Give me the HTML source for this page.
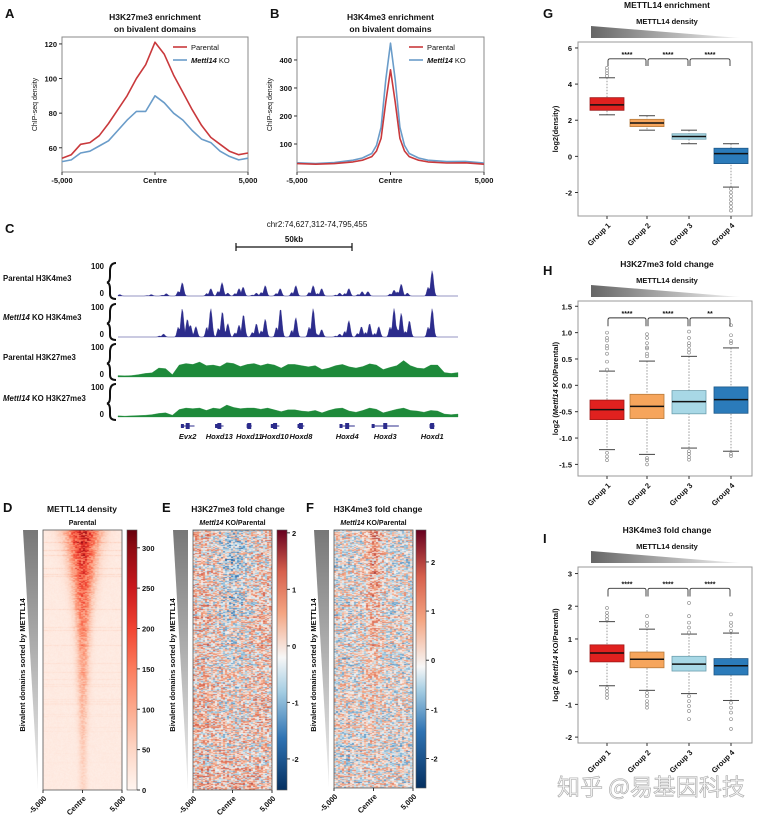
<!DOCTYPE html>
<html><head><meta charset="utf-8">
<style>
html,body{margin:0;padding:0;background:#fff;}
#wrap{position:relative;width:761px;height:817px;overflow:hidden;font-family:"Liberation Sans",Arial,sans-serif;}
svg{position:absolute;left:0;top:0;}
canvas{position:absolute;}
text{font-family:"Liberation Sans","Noto Sans CJK SC",sans-serif;fill:#111;}
</style></head>
<body>
<div id="wrap">
<canvas id="hmD" width="79" height="260" style="left:43px;top:530px;width:79px;height:260px"></canvas>
<canvas id="hmE" width="79" height="260" style="left:193px;top:530px;width:79px;height:260px"></canvas>
<canvas id="hmF" width="79" height="258" style="left:334px;top:530px;width:79px;height:258px"></canvas>
<svg id="svg" width="761" height="817" xmlns="http://www.w3.org/2000/svg">
<defs>
<linearGradient id="triG" x1="0" x2="1" y1="0" y2="0"><stop offset="0" stop-color="#666"/><stop offset="1" stop-color="#f2f2f2"/></linearGradient>
<linearGradient id="triV" x1="0" x2="0" y1="0" y2="1"><stop offset="0" stop-color="#777"/><stop offset="1" stop-color="#f0f0f0"/></linearGradient>
<linearGradient id="cbReds" x1="0" x2="0" y1="1" y2="0"><stop offset="0" stop-color="#fff5f0"/><stop offset="0.16" stop-color="#fdd5c4"/><stop offset="0.31" stop-color="#fcaa8e"/><stop offset="0.47" stop-color="#fb7b5c"/><stop offset="0.62" stop-color="#f14432"/><stop offset="0.78" stop-color="#c9181d"/><stop offset="0.94" stop-color="#8a0a12"/><stop offset="1" stop-color="#67000d"/></linearGradient>
<linearGradient id="cbE" x1="0" x2="0" y1="1" y2="0"><stop offset="0" stop-color="#053061"/><stop offset="0.2" stop-color="#2f73b3"/><stop offset="0.38" stop-color="#a6cee3"/><stop offset="0.51" stop-color="#f7f7f7"/><stop offset="0.68" stop-color="#f4a582"/><stop offset="0.84" stop-color="#d6604d"/><stop offset="1" stop-color="#67001f"/></linearGradient>
<linearGradient id="cbF" x1="0" x2="0" y1="1" y2="0"><stop offset="0" stop-color="#053061"/><stop offset="0.22" stop-color="#2f73b3"/><stop offset="0.38" stop-color="#a6cee3"/><stop offset="0.47" stop-color="#f7f7f7"/><stop offset="0.65" stop-color="#f4a582"/><stop offset="0.82" stop-color="#d6604d"/><stop offset="1" stop-color="#67001f"/></linearGradient>
</defs>
<g id="layer"></g>
</svg>
</div>
<script>
// ---------- Panel A / B data ----------
const posA = [-5000,-4500,-4000,-3500,-3000,-2500,-2000,-1500,-1000,-500,0,500,1000,1500,2000,2500,3000,3500,4000,4500,5000];
const parentalA = [54,56,62,63,67,74,82,90,100,108,121,114,102,92,82,73,66,62,58,56,57];
const koA = [52,53,57,58,61,64,70,76,81,81,90,86,80,76,70,65,63,58,55,53,54];
const ticksA = [60,80,100,120];
const posB = [-5000,-4000,-3000,-2000,-1500,-1000,-750,-500,-250,0,250,500,750,1000,1500,2000,3000,4000,5000];
const parentalB = [30,28,30,36,42,55,75,120,250,365,250,120,75,55,42,36,32,33,28];
const koB = [33,30,34,42,50,66,95,160,330,460,330,160,95,66,50,42,37,38,32];
const ticksB = [100,200,300,400];
const xTickLabels = ["-5,000","Centre","5,000"];
const xTickPos = [-5000,0,5000];

// ---------- Panel C data ----------
const k4ParPos = [0.5,9.8,14.2,18.9,27.3,30.6,32.3,35.6,36.8,40.7,43.3,47.7,52.3,57.4,59.9,65.2,67.9,71.8,73.5,81.2,83.3,85.1,92.4];
const k4ParHt  = [5,5,8,45,25,45,10,25,30,10,35,25,35,35,25,10,25,15,15,20,40,10,85];
const k4KoPos = [13.4,18.9,20.4,21.3,22.9,27.3,30.7,32.3,35.6,36.9,40.7,43.3,47.8,52.3,57.4,59.9,65.2,67.9,71.6,74.0,76.7,81.2,83.3,85.7,92.4];
const k4KoHt  = [10,95,60,40,35,95,85,45,40,75,45,60,95,65,95,25,10,55,35,45,35,95,80,55,95];
const k27Par = [5,4,5,8,12,14,30,28,8,40,45,42,50,38,40,35,48,45,35,42,45,38,44,40,30,42,42,38,34,38,25,30,38,42,34,30,35,44,40,25,32,38,55,38,30,28,40,40,15,12,15];
const k27Ko  = [4,3,4,5,6,8,12,14,6,25,30,28,30,22,30,27,40,32,28,30,30,26,30,24,18,24,24,20,18,22,14,22,28,30,20,16,22,30,26,14,20,26,30,22,20,16,22,20,10,8,10];
const geneNames = ["Evx2","Hoxd13","Hoxd11","Hoxd10","Hoxd8","Hoxd4","Hoxd3","Hoxd1"];
const genePos = [20.5,29.8,38.6,46.2,53.8,67.4,78.6,92.4];
const geneLen = [4,2.5,1.5,2.5,2,4.5,8,1.5];

// ---------- Panel D/E/F data ----------
const dRowIntensity = [320,290,250,220,190,160,140,115,95,80,65,55,45];
const dRowWidth = [9,7,6,5,4,3.5,3,3,2.5,2.5,2,2,2];
const eCenterBias = [-0.5,-0.6,-0.5,-0.5,-0.4,-0.3,-0.3,-0.2,-0.2,-0.1,-0.1,0,0];
const fCenterBias = [0.9,0.8,0.7,0.6,0.5,0.5,0.4,0.3,0.3,0.2,0.2,0.1,0.1];
const dTicks = [0,50,100,150,200,250,300];
const eTicks = [-2,-1,0,1,2];
const fTicks = [-2,-1,0,1,2];

// ---------- Panel G/H/I data ----------
const groups = ["Group 1","Group 2","Group 3","Group 4"];
const gQ1=[2.55,1.65,0.95,-0.4], gMed=[2.85,1.85,1.1,0.15], gQ3=[3.25,2.05,1.25,0.45], gLo=[2.3,1.45,0.7,-1.7], gHi=[4.35,2.25,1.45,0.7];
const gOut=[[4.45,4.6,4.75,4.9],[],[],[-1.8,-2.0,-2.2,-2.4,-2.6,-2.8,-3.0]];
const gTicks=[-2,0,2,4,6];
const gStars=["****","****","****"];
const hQ1=[-0.65,-0.63,-0.54,-0.53], hMed=[-0.46,-0.4,-0.31,-0.27], hQ3=[-0.28,-0.17,-0.1,-0.03], hLo=[-1.22,-1.31,-1.19,-1.25], hHi=[0.27,0.46,0.55,0.71];
const hOut=[[0.3,0.45,0.6,0.7,0.75,0.85,0.9,1.0,-1.28,-1.35,-1.42],[0.55,0.6,0.7,0.72,0.8,0.9,0.97,-1.38,-1.42,-1.5],[0.62,0.68,0.75,0.8,0.9,1.02,-1.25,-1.3,-1.36,-1.41],[0.8,0.84,0.95,1.14,-1.3,-1.34]];
const hTicks=[-1.5,-1.0,-0.5,0.0,0.5,1.0,1.5];
const hStars=["****","****","**"];
const iQ1=[0.3,0.12,0.02,-0.1], iMed=[0.57,0.38,0.23,0.18], iQ3=[0.82,0.6,0.47,0.4], iLo=[-0.43,-0.57,-0.67,-0.88], iHi=[1.53,1.3,1.15,1.18];
const iOut=[[1.6,1.7,1.8,1.95,-0.5,-0.6,-0.7,-0.8],[1.4,1.5,1.7,-0.65,-0.75,-0.9,-1.0,-1.1],[1.2,1.35,1.5,1.7,2.1,-0.75,-0.9,-1.05,-1.2,-1.45],[1.25,1.4,1.5,1.75,-0.95,-1.1,-1.25,-1.45,-1.75]];
const iTicks=[-2,-1,0,1,2,3];
const iStars=["****","****","****"];

const NS="http://www.w3.org/2000/svg";
const layer=document.getElementById('layer');
function el(tag,attrs,parent,txt){const e=document.createElementNS(NS,tag);for(const k in attrs)e.setAttribute(k,attrs[k]);if(txt!==undefined)e.textContent=txt;(parent||layer).appendChild(e);return e;}
function T(x,y,s,size,opts){opts=opts||{};const e=el('text',{x:x,y:y,'font-size':size,'text-anchor':opts.a||'start','font-weight':opts.w||'bold'},opts.p);if(opts.rot)e.setAttribute('transform','rotate('+opts.rot+' '+x+' '+y+')');if(opts.html){e.innerHTML=s}else{e.textContent=s;}return e;}

[["A",5,18],["B",270,18],["G",543,18],["C",5,233],["D",3,512],["E",162,512],["F",306,512],["H",543,275],["I",543,543]].forEach(l=>{
 const t=T(l[1],l[2],l[0],13);
 
 
});

function profilePanel(id,box,yMin,yMax,pos,par,ko,ticks,title1,title2){
 const g=el('g',{});
 
 
 const xs=v=>box.x0+(v+5000)/10000*(box.x1-box.x0);
 const ys=v=>box.y1-(v-yMin)/(yMax-yMin)*(box.y1-box.y0);
 T((box.x0+box.x1)/2,20,title1,8.5,{a:'middle',p:g});
 T((box.x0+box.x1)/2,32,title2,8.5,{a:'middle',p:g});
 const fr=el('rect',{x:box.x0,y:box.y0,width:box.x1-box.x0,height:box.y1-box.y0,fill:'none',stroke:'#888','stroke-width':1},g);
 
 
 ticks.forEach(t=>{const y=ys(t);el('line',{x1:box.x0-3,x2:box.x0,y1:y,y2:y,stroke:'#333'},g);T(box.x0-5,y+3,String(t),7.5,{a:'end',p:g});});
 xTickPos.forEach((t,i)=>{const x=xs(t);el('line',{x1:x,x2:x,y1:box.y1,y2:box.y1+3,stroke:'#333'},g);T(x,box.y1+11,xTickLabels[i],7.5,{a:'middle',p:g});});
 const yl=T(box.x0-25,(box.y0+box.y1)/2,'ChIP-seq density',7,{a:'middle',p:g,rot:-90,w:'normal'});
 
 
 [[ko,'#6a9cc9','series-mettl14-ko'],[par,'#c9393c','series-parental']].forEach(s=>{
  const d=s[0].map((v,i)=>(i?'L':'M')+xs(pos[i]).toFixed(1)+','+ys(v).toFixed(1)).join('');
  const p=el('path',{d:d,fill:'none',stroke:s[1],'stroke-width':1.6,'stroke-linejoin':'round'},g);
  
  
 });
 const lx=box.x1-75;
 const lg=el('g',{},g);
 
 
 el('line',{x1:lx,x2:lx+14,y1:47,y2:47,stroke:'#c9393c','stroke-width':1.6},lg);
 T(lx+18,50,'Parental',7.5,{p:lg,w:'normal'});
 el('line',{x1:lx,x2:lx+14,y1:60,y2:60,stroke:'#6a9cc9','stroke-width':1.6},lg);
 T(lx+18,63,'<tspan font-style="italic" font-weight="bold">Mettl14</tspan> KO',7.5,{p:lg,w:'normal',html:true});
}
profilePanel('a',{x0:62,x1:248,y0:37,y1:172},46,124,posA,parentalA,koA,ticksA,'H3K27me3 enrichment','on bivalent domains');
profilePanel('b',{x0:297,x1:484,y0:37,y1:172},0,482,posB,parentalB,koB,ticksB,'H3K4me3  enrichment','on bivalent domains');

(function(){
 const g=el('g',{});
 
 
 const X0=118,X1=458;
 const xs=v=>X0+v/100*(X1-X0);
 T(317,227,'chr2:74,627,312-74,795,455',8,{a:'middle',p:g,w:'normal'});
 const sb=el('path',{d:'M236,247H352M236,243V251M352,243V251',stroke:'#111','stroke-width':1.2,fill:'none'},g);
 
 
 T(294,242,'50kb',8,{a:'middle',p:g});
 const tracks=[
  {lab:'Parental H3K4me3',base:296,type:'peaks',pos:k4ParPos,ht:k4ParHt,col:'#2c2c8c',ly:281},
  {lab:'<tspan font-style="italic">Mettl14</tspan> KO H3K4me3',base:337,type:'peaks',pos:k4KoPos,ht:k4KoHt,col:'#2c2c8c',ly:320},
  {lab:'Parental H3K27me3',base:377,type:'bins',bins:k27Par,col:'#1e8a3a',ly:360},
  {lab:'<tspan font-style="italic">Mettl14</tspan> KO H3K27me3',base:417,type:'bins',bins:k27Ko,col:'#1e8a3a',ly:401}];
 tracks.forEach((t,ti)=>{
  const tg=el('g',{},g);
  
  
  T(3,t.ly,t.lab,7.8,{p:tg,html:true});
  const top=t.base-30;
  T(104,top+3,'100',7.8,{a:'end',p:tg});
  T(104,t.base,'0',7.8,{a:'end',p:tg});
  el('path',{d:`M116,${top-3} Q110,${top-3} 110,${top+5} L110,${t.base-20} Q110,${t.base-14} 107,${t.base-13.5} Q110,${t.base-13} 110,${t.base-7} L110,${t.base-2} Q110,${t.base+3} 116,${t.base+3}`,fill:'none',stroke:'#111','stroke-width':2},tg);
  const ys=v=>t.base-v/100*30;
  let d='M'+X0+','+t.base;
  if(t.type==='peaks'){
   const N=340;
   for(let i=0;i<=N;i++){const p=i/N*100;let v=0;t.pos.forEach((pp,k)=>{const dd=(p-pp)/0.6;v=Math.max(v,t.ht[k]*Math.exp(-dd*dd));const d2=(p-pp+1.2)/0.5;v=Math.max(v,t.ht[k]*0.35*Math.exp(-d2*d2));});d+='L'+xs(p).toFixed(1)+','+ys(v).toFixed(1);}
  }else{
   const n=t.bins.length;
   t.bins.forEach((v,i)=>{const p=i/(n-1)*100;d+='L'+xs(p).toFixed(1)+','+ys(v).toFixed(1);});
  }
  d+='L'+X1+','+t.base+'Z';
  const p=el('path',{d:d,fill:t.col,stroke:t.col,'stroke-width':0.3},tg);
  
  
 });
 geneNames.forEach((n,i)=>{
  const x=xs(genePos[i]),w=geneLen[i]/100*(X1-X0);
  const gg=el('g',{},g);
  
  
  el('line',{x1:x-w/2,x2:x+w/2,y1:426,y2:426,stroke:'#2c2c8c','stroke-width':1},gg);
  el('rect',{x:x-2,y:423,width:4,height:6,fill:'#2c2c8c'},gg);
  el('rect',{x:x-w/2,y:424,width:3,height:4,fill:'#2c2c8c'},gg);
  const t=T(x,439,n,7.5,{a:'middle',p:gg});t.setAttribute('font-style','italic');
 });
})();

function h(a,b){const x=Math.sin(a*127.1+b*311.7)*43758.5453;return x-Math.floor(x);}
function lerpColor(stops,t){t=Math.max(0,Math.min(1,t));for(let i=1;i<stops.length;i++){if(t<=stops[i][0]){const a=stops[i-1],b=stops[i];const f=(t-a[0])/(b[0]-a[0]);return [0,1,2].map(k=>Math.round(a[1][k]+(b[1][k]-a[1][k])*f));}}return stops[stops.length-1][1];}
const REDS=[[0,[255,245,240]],[0.16,[253,213,196]],[0.31,[252,170,142]],[0.47,[251,123,92]],[0.62,[241,68,50]],[0.78,[201,24,29]],[0.94,[138,10,18]],[1,[103,0,13]]];
const RDBU=[[0,[5,48,97]],[0.2,[47,115,179]],[0.38,[166,206,227]],[0.5,[247,247,247]],[0.66,[244,165,130]],[0.82,[214,96,77]],[1,[103,0,31]]];
function drawHeat(id,fn,cmap,vmin,vmax){
 const c=document.getElementById(id),ctx=c.getContext('2d');const W=c.width,H=c.height;
 const img=ctx.createImageData(W,H);
 for(let y=0;y<H;y++)for(let x=0;x<W;x++){const v=fn(x/W,y/H,x,y);const col=lerpColor(cmap,(v-vmin)/(vmax-vmin));const o=(y*W+x)*4;img.data[o]=col[0];img.data[o+1]=col[1];img.data[o+2]=col[2];img.data[o+3]=255;}
 ctx.putImageData(img,0,0);
}
function binVal(arr,fy){const f=fy*(arr.length-1);const i=Math.floor(f),r=f-i;return arr[Math.min(i,arr.length-1)]*(1-r)+arr[Math.min(i+1,arr.length-1)]*r;}
drawHeat('hmD',(fx,fy,x,y)=>{
 const amp=binVal(dRowIntensity,fy),wd=binVal(dRowWidth,fy)/40;const d=(fx-0.5)/wd;
 const streak=h(y,3)>0.93?40*(1-fy):0;
 return amp*Math.exp(-d*d)*(0.4+0.5*h(y,Math.floor(x/2)))+12+streak*(0.4+0.6*h(y,x))+10*h(x,y);
},REDS,0,322);
function fcNoise(fx,fy,x,y,bias,mean,cw){
 const col=Math.floor(x/2);
 const n=(h(y,col)-0.5)*2.2+(h(y,7)-0.5)*0.6;
 const d=(fx-0.5)/cw;return mean+n+bias*Math.exp(-d*d);
}
drawHeat('hmE',(fx,fy,x,y)=>fcNoise(fx,fy,x,y,binVal(eCenterBias,fy)*1.3,0.2,0.22),RDBU,-2.5,2.2);
drawHeat('hmF',(fx,fy,x,y)=>fcNoise(fx,fy,x,y,binVal(fCenterBias,fy)*1.1,0.1,0.1),RDBU,-2.5,2.7);

function heatDecor(id,hx0,hx1,title,sub,cbx,cbTop,cbBot,vTop,vBot,ticks,grad,tx){
 const g=el('g',{});
 
 
 T(tx,512,title,8.5,{a:'middle',p:g});
 T((hx0+hx1)/2,525,sub,7,{a:'middle',p:g,html:true});
 el('rect',{x:hx0,y:530,width:hx1-hx0,height:cbBot-530,fill:'none',stroke:'#555','stroke-width':0.8},g);
 el('polygon',{points:`${hx0-20},530 ${hx0-5},530 ${hx0-5},${cbBot}`,fill:'url(#triV)'},g);
 const yl=T(hx0-18,665,'Bivalent domains sorted by METTL14',7.5,{a:'middle',p:g,rot:-90});
 
 
 const cb=el('rect',{x:cbx,y:cbTop,width:10,height:cbBot-cbTop,fill:'url(#'+grad+')',stroke:'#555','stroke-width':0.6},g);
 
 
 const ys=v=>cbBot-(v-vBot)/(vTop-vBot)*(cbBot-cbTop);
 ticks.forEach(t=>{const y=ys(t);el('line',{x1:cbx+10,x2:cbx+13,y1:y,y2:y,stroke:'#333'},g);T(cbx+15,y+3,String(t),7.5,{p:g});});
 const xl=["-5,000","Centre","5,000"],xp=[hx0,(hx0+hx1)/2,hx1];
 xl.forEach((s,i)=>{el('line',{x1:xp[i],x2:xp[i],y1:cbBot,y2:cbBot+3,stroke:'#333'},g);T(xp[i]+4,cbBot+9,s,7.5,{a:'end',p:g,rot:-45});});
}
heatDecor('d',43,122,'METTL14 density','Parental',127,530,790,322,0,dTicks,'cbReds',82);
heatDecor('e',193,272,'H3K27me3 fold change','<tspan font-style="italic">Mettl14</tspan> KO/Parental',277,530,790,2.05,-2.55,eTicks,'cbE',238);
heatDecor('f',334,413,'H3K4me3 fold change','<tspan font-style="italic">Mettl14</tspan> KO/Parental',416,530,788,2.65,-2.6,fTicks,'cbF',378);

const gx=[607,647,689,731];
const fills=['#e0211f','#f6a55c','#a8d8e6','#2b7bba'];
const strokes=['#a01818','#b87a3a','#6c9fae','#1d5888'];
function boxPanel(id,y0,y1,vTop,vBot,tickVals,q1,med,q3,lo,hi,outs,stars,title,ytitle,brTop,brEnd,tickFmt){
 const g=el('g',{});
 
 
 const ys=v=>y1-(v-vBot)/(vTop-vBot)*(y1-y0);
 T(667,y0-34,title,8.5,{a:'middle',p:g});
 el('polygon',{points:`591,${y0-16} 740,${y0-4} 591,${y0-4}`,fill:'url(#triG)'},g);
 T(667,y0-18,'METTL14 density',7.5,{a:'middle',p:g});
 el('rect',{x:578,y:y0,width:174,height:y1-y0,fill:'none',stroke:'#999','stroke-width':1},g);
 tickVals.forEach(t=>{const y=ys(t);el('line',{x1:575,x2:578,y1:y,y2:y,stroke:'#333'},g);T(572,y+3,tickFmt(t),7.5,{a:'end',p:g});});
 const yl=T(558,(y0+y1)/2,ytitle,7.5,{a:'middle',p:g,rot:-90,html:true});
 
 
 groups.forEach((n,i)=>{
  const x=gx[i],bg=el('g',{},g);
  
  
  el('line',{x1:x,x2:x,y1:ys(hi[i]),y2:ys(lo[i]),stroke:'#999','stroke-dasharray':'1.5,1.5'},bg);
  el('line',{x1:x-8,x2:x+8,y1:ys(hi[i]),y2:ys(hi[i]),stroke:'#444'},bg);
  el('line',{x1:x-8,x2:x+8,y1:ys(lo[i]),y2:ys(lo[i]),stroke:'#444'},bg);
  outs[i].forEach(v=>el('circle',{cx:x,cy:ys(v),r:1.5,fill:'none',stroke:'#888','stroke-width':0.6},bg));
  el('rect',{x:x-17,y:ys(q3[i]),width:34,height:ys(q1[i])-ys(q3[i]),fill:fills[i],stroke:strokes[i],'stroke-width':0.8},bg);
  el('line',{x1:x-17,x2:x+17,y1:ys(med[i]),y2:ys(med[i]),stroke:'#111','stroke-width':1.5},bg);
  el('line',{x1:x,x2:x,y1:y1,y2:y1+3,stroke:'#333'},g);
  T(x+4,y1+10,n,7.5,{a:'end',p:g,rot:-45});
 });
 for(let i=0;i<3;i++){
  const a=gx[i]+1,b=gx[i+1]-1,yt=ys(brTop),ye=ys(brEnd);
  const br=el('path',{d:`M${a},${ye}L${a},${yt+2}Q${a},${yt} ${a+2},${yt}L${b-2},${yt}Q${b},${yt} ${b},${yt+2}L${b},${ye}`,fill:'none',stroke:'#333','stroke-width':0.9},g);
  
  
  T((a+b)/2,yt-2,stars[i],7,{a:'middle',p:g});
 }
}
boxPanel('g',42,216,6.33,-3.3,gTicks,gQ1,gMed,gQ3,gLo,gHi,gOut,gStars,'METTL14 enrichment','log2(density)',5.4,5.0,t=>String(t));
boxPanel('h',301,476,1.6,-1.72,hTicks,hQ1,hMed,hQ3,hLo,hHi,hOut,hStars,'H3K27me3 fold change','log2 (<tspan font-style="italic">Mettl14</tspan> KO/Parental)',1.28,1.12,t=>t.toFixed(1));
boxPanel('i',567,743,3.2,-2.18,iTicks,iQ1,iMed,iQ3,iLo,iHi,iOut,iStars,'H3K4me3 fold change','log2 (<tspan font-style="italic">Mettl14</tspan> KO/Parental)',2.55,2.3,t=>String(t));

const wm=el('text',{x:557,y:795,'font-size':23,style:'fill:#f4f4f4;stroke:#a8a8a8;stroke-width:0.6px;font-family:"Noto Sans CJK SC",sans-serif'});
wm.textContent='知乎 @易基因科技';


</script>
</body></html>
